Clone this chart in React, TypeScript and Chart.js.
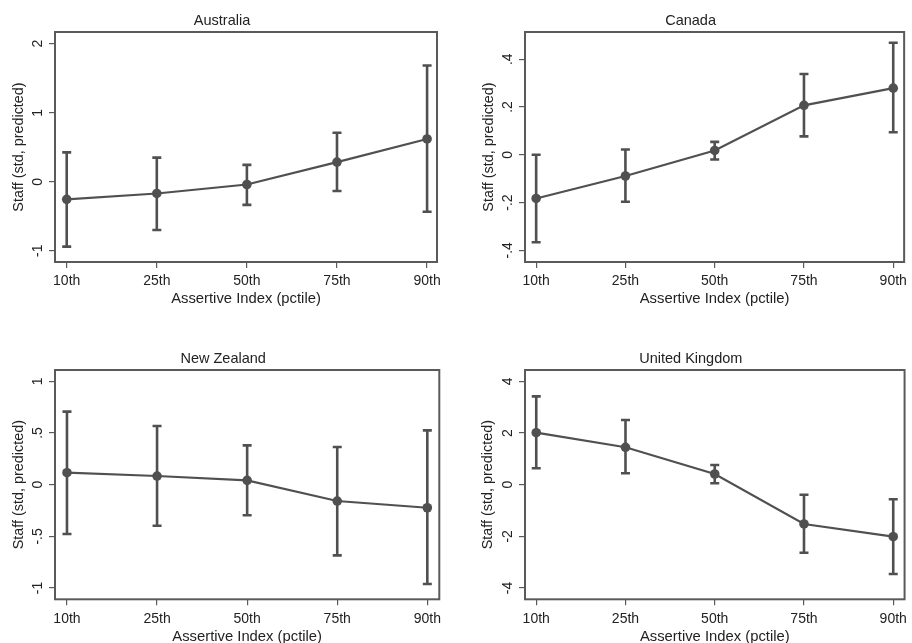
import React, { useEffect, useRef } from 'react';
import { Chart, registerables } from 'chart.js';

Chart.register(...registerables);

// ---------- data ----------
const categories = ['10th', '25th', '50th', '75th', '90th'];

const australiaEst = [-0.255, -0.17, -0.04, 0.285, 0.62];
const australiaLo = [-0.94, -0.7, -0.335, -0.135, -0.435];
const australiaHi = [0.425, 0.35, 0.245, 0.71, 1.685];
const australiaTicks = [-1, 0, 1, 2];
const australiaTickLabels = ['-1', '0', '1', '2'];

const canadaEst = [-0.183, -0.089, 0.018, 0.207, 0.279];
const canadaLo = [-0.366, -0.197, -0.02, 0.077, 0.094];
const canadaHi = [0.0, 0.022, 0.054, 0.338, 0.469];
const canadaTicks = [-0.4, -0.2, 0, 0.2, 0.4];
const canadaTickLabels = ['-.4', '-.2', '0', '.2', '.4'];

const nzEst = [0.116, 0.084, 0.042, -0.158, -0.223];
const nzLo = [-0.477, -0.397, -0.296, -0.684, -0.961];
const nzHi = [0.707, 0.568, 0.381, 0.365, 0.526];
const nzTicks = [-1, -0.5, 0, 0.5, 1];
const nzTickLabels = ['-1', '-.5', '0', '.5', '1'];

const ukEst = [2.013, 1.448, 0.414, -1.521, -2.013];
const ukLo = [0.635, 0.44, 0.054, -2.632, -3.457];
const ukHi = [3.42, 2.505, 0.763, -0.387, -0.565];
const ukTicks = [-4, -2, 0, 2, 4];
const ukTickLabels = ['-4', '-2', '0', '2', '4'];

const xTitle = 'Assertive Index (pctile)';
const yTitle = 'Staff (std, predicted)';

// ---------- styles / layout ----------
const FONT = "Arial, 'Liberation Sans', Helvetica, sans-serif";
const INK = '#222222';
const MARK = '#505050';
const FRAME = '#5a5a5a';

type PanelCfg = {
  title: string;
  est: number[];
  lo: number[];
  hi: number[];
  ticks: number[];
  tickLabels: string[];
  yMin: number;
  yMax: number;
  xMin: number;
  xMax: number;
  px: number;
  py: number;
  w: number;
  h: number;
  boxLeft: number;
  boxRight: number;
  boxTop: number;
  boxBottom: number;
  yTitlePad: number;
  xTitlePad: number;
};

const panels: PanelCfg[] = [
  {
    title: 'Australia', est: australiaEst, lo: australiaLo, hi: australiaHi,
    ticks: australiaTicks, tickLabels: australiaTickLabels,
    yMin: -1.163, yMax: 2.17, xMin: -0.13, xMax: 4.11,
    px: 0, py: 0, w: 456, h: 320,
    boxLeft: 55, boxRight: 437, boxTop: 32, boxBottom: 262,
    yTitlePad: 10.5, xTitlePad: 12.5,
  },
  {
    title: 'Canada', est: canadaEst, lo: canadaLo, hi: canadaHi,
    ticks: canadaTicks, tickLabels: canadaTickLabels,
    yMin: -0.449, yMax: 0.514, xMin: -0.125, xMax: 4.122,
    px: 456, py: 0, w: 456, h: 320,
    boxLeft: 69, boxRight: 451.7, boxTop: 32, boxBottom: 262,
    yTitlePad: 24, xTitlePad: 12.5,
  },
  {
    title: 'New Zealand', est: nzEst, lo: nzLo, hi: nzHi,
    ticks: nzTicks, tickLabels: nzTickLabels,
    yMin: -1.109, yMax: 1.11, xMin: -0.133, xMax: 4.133,
    px: 0, py: 320, w: 456, h: 323,
    boxLeft: 55, boxRight: 439.3, boxTop: 50, boxBottom: 279.3,
    yTitlePad: 10.5, xTitlePad: -2.5,
  },
  {
    title: 'United Kingdom', est: ukEst, lo: ukLo, hi: ukHi,
    ticks: ukTicks, tickLabels: ukTickLabels,
    yMin: -4.437, yMax: 4.44, xMin: -0.126, xMax: 4.127,
    px: 456, py: 320, w: 456, h: 323,
    boxLeft: 69, boxRight: 451.7, boxTop: 50, boxBottom: 279.3,
    yTitlePad: 23.5, xTitlePad: -2.5,
  },
];

function PanelChart({ cfg }: { cfg: PanelCfg }) {
  const ref = useRef<HTMLCanvasElement | null>(null);

  useEffect(() => {
    const canvas = ref.current;
    if (!canvas) return;

    const errorBars = {
      id: 'errorBars',
      beforeDatasetsDraw(chart: any) {
        const { ctx, scales } = chart;
        const xs = scales.x;
        const ys = scales.y;
        ctx.save();
        ctx.strokeStyle = MARK;
        ctx.lineWidth = 2.6;
        ctx.lineCap = 'butt';
        cfg.est.forEach((_, i) => {
          const x = xs.getPixelForValue(i);
          const yl = ys.getPixelForValue(cfg.lo[i]);
          const yh = ys.getPixelForValue(cfg.hi[i]);
          const cap = 4.5;
          ctx.beginPath();
          ctx.moveTo(x, yl);
          ctx.lineTo(x, yh);
          ctx.moveTo(x - cap, yl);
          ctx.lineTo(x + cap, yl);
          ctx.moveTo(x - cap, yh);
          ctx.lineTo(x + cap, yh);
          ctx.stroke();
        });
        ctx.restore();
      },
    };

    const decorations = {
      id: 'decorations',
      afterDraw(chart: any) {
        const { ctx, chartArea, scales } = chart;
        const ys = scales.y;
        ctx.save();
        // frame
        ctx.strokeStyle = FRAME;
        ctx.lineWidth = 2;
        ctx.strokeRect(chartArea.left, chartArea.top, chartArea.right - chartArea.left, chartArea.bottom - chartArea.top);
        // rotated y tick labels
        ctx.fillStyle = INK;
        ctx.font = `14px ${FONT}`;
        ctx.textAlign = 'center';
        ctx.textBaseline = 'alphabetic';
        cfg.ticks.forEach((v, i) => {
          const y = ys.getPixelForValue(v);
          const x = chartArea.left - 13.5;
          ctx.save();
          ctx.translate(x, y);
          ctx.rotate(-Math.PI / 2);
          ctx.fillText(cfg.tickLabels[i], 0, 0);
          ctx.restore();
        });
        // panel title
        ctx.font = `14.5px ${FONT}`;
        const cx = (chartArea.left + chartArea.right) / 2 - 24;
        ctx.textAlign = 'center';
        ctx.textBaseline = 'alphabetic';
        ctx.fillText(cfg.title, cx, chartArea.top - 7);
        ctx.restore();
      },
    };

    const chart = new Chart(canvas, {
      type: 'line',
      data: {
        datasets: [
          {
            data: cfg.est.map((v, i) => ({ x: i, y: v })),
            borderColor: MARK,
            backgroundColor: MARK,
            borderWidth: 2.2,
            pointRadius: 4.8,
            pointBorderWidth: 0,
            pointBackgroundColor: MARK,
            tension: 0,
            clip: false as any,
          },
        ],
      },
      options: {
        responsive: false,
        animation: false,
        devicePixelRatio: 1,
        events: [],
        layout: {
          padding: { left: 0, top: cfg.boxTop, right: cfg.w - cfg.boxRight, bottom: 0 },
        },
        plugins: {
          legend: { display: false },
          title: { display: false },
          tooltip: { enabled: false },
        },
        scales: {
          x: {
            type: 'linear',
            position: 'bottom',
            min: cfg.xMin,
            max: cfg.xMax,
            afterBuildTicks: (s: any) => {
              s.ticks = categories.map((_, i) => ({ value: i }));
            },
            afterFit: (s: any) => {
              s.height = cfg.h - cfg.boxBottom;
            },
            grid: {
              drawOnChartArea: false,
              drawTicks: true,
              tickLength: 6,
              color: FRAME,
              lineWidth: 1.2,
            },
            border: { display: false },
            ticks: {
              autoSkip: false,
              maxRotation: 0,
              minRotation: 0,
              padding: 5,
              color: INK,
              font: { family: FONT, size: 14 },
              callback: (_v: any, i: number) => categories[i],
            },
            title: {
              display: true,
              text: xTitle,
              color: INK,
              font: { family: FONT, size: 14.8 },
              padding: { top: 0, bottom: cfg.xTitlePad },
            },
          },
          y: {
            type: 'linear',
            position: 'left',
            min: cfg.yMin,
            max: cfg.yMax,
            afterBuildTicks: (s: any) => {
              s.ticks = cfg.ticks.map((v) => ({ value: v }));
            },
            afterFit: (s: any) => {
              s.width = cfg.boxLeft;
            },
            grid: {
              drawOnChartArea: false,
              drawTicks: true,
              tickLength: 6,
              color: FRAME,
              lineWidth: 1.2,
            },
            border: { display: false },
            ticks: { display: false },
            title: {
              display: true,
              text: yTitle,
              color: INK,
              font: { family: FONT, size: 14.4 },
              padding: { top: cfg.yTitlePad, bottom: 0 },
            },
          },
        },
      },
      plugins: [errorBars, decorations],
    } as any);

    return () => chart.destroy();
  }, [cfg]);

  return (
    <div style={{ position: 'absolute', left: cfg.px, top: cfg.py, width: cfg.w, height: cfg.h }}>
      <canvas ref={ref} width={cfg.w} height={cfg.h} style={{ display: 'block', width: cfg.w, height: cfg.h }} />
    </div>
  );
}

export default function App() {
  return (
    <div style={{ position: 'fixed', left: 0, top: 0, width: 912, height: 643, background: '#ffffff', overflow: 'hidden' }}>
      {panels.map((p) => (
        <PanelChart key={p.title} cfg={p} />
      ))}
    </div>
  );
}
